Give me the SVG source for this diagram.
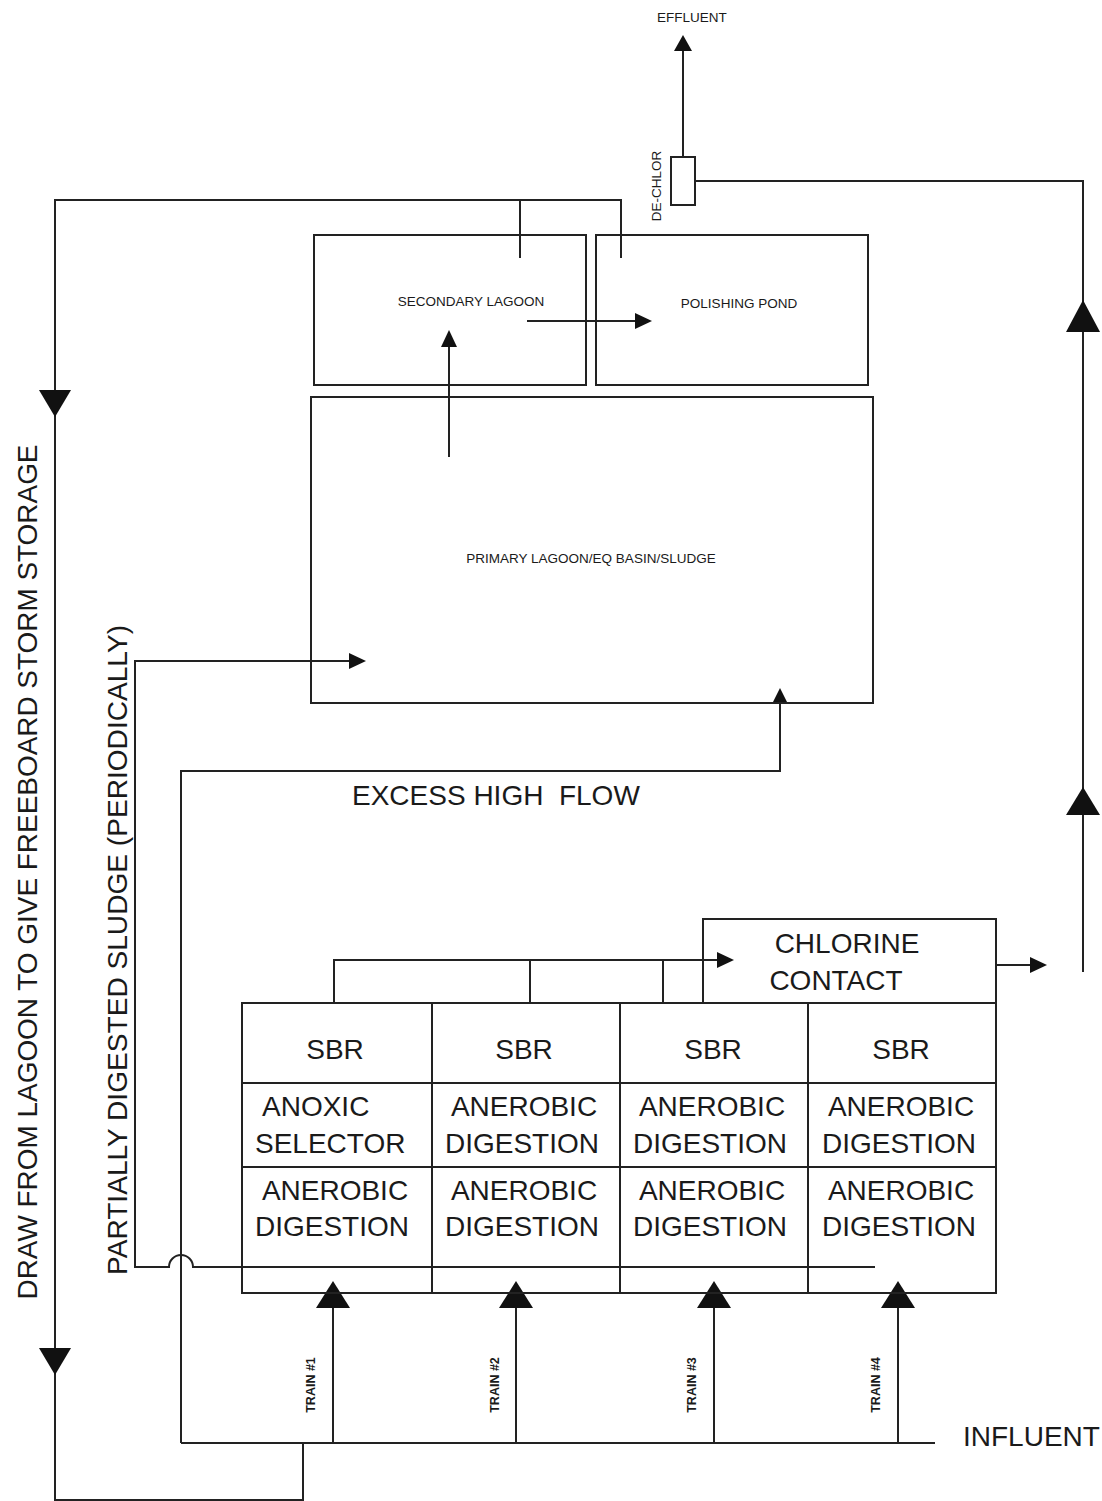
<svg xmlns="http://www.w3.org/2000/svg" width="1102" height="1501" viewBox="0 0 1102 1501">
<style>
.box{fill:none;stroke:#222;stroke-width:2}
.ln{fill:none;stroke:#222;stroke-width:2}
.ah{fill:#111;stroke:none}
.big{font-family:"Liberation Sans",Arial,sans-serif;font-size:28px;fill:#1a1a1a}
.sm{font-family:"Liberation Sans",Arial,sans-serif;font-size:13.5px;fill:#1a1a1a}
.tr{font-family:"Liberation Sans",Arial,sans-serif;font-size:12.5px;font-weight:bold;fill:#1a1a1a}
.mid{text-anchor:middle}
</style>
<rect width="1102" height="1501" fill="#fff"/>

<g id="connectors">
  <!-- effluent -->
  <path class="ln" d="M683,157 V48"/>
  <polygon class="ah" points="683,35 674,51 692,51"/>
  <!-- chlorine to dechlor -->
  <path class="ln" d="M695,181 H1083 V972"/>
  <polygon class="ah" points="1083,300 1066,332 1100,332"/>
  <polygon class="ah" points="1083,787 1066,815 1100,815"/>
  <!-- draw from lagoon -->
  <path class="ln" d="M520,258 V200 M621,258 V200 H55 V1500 H303 V1443"/>
  <polygon class="ah" points="55,417 39,390 71,390"/>
  <polygon class="ah" points="55,1375 39,1348 71,1348"/>
  <!-- primary to secondary -->
  <path class="ln" d="M449,457 V344"/>
  <polygon class="ah" points="449,330 441,347 457,347"/>
  <!-- secondary to polishing -->
  <path class="ln" d="M527,321 H638"/>
  <polygon class="ah" points="652,321 635,313 635,329"/>
  <!-- sludge -->
  <path class="ln" d="M875,1267 H193 A12,12 0 0 0 169,1267 H135 V661 H352"/>
  <polygon class="ah" points="366,661 349,653 349,669"/>
  <!-- excess high flow -->
  <path class="ln" d="M181,1443 V771 H780 V702"/>
  <polygon class="ah" points="780,688 772,704 788,704"/>
  <!-- influent -->
  <path class="ln" d="M181,1443 H935"/>
  <path class="ln" d="M333,1443 V1300 M516,1443 V1300 M714,1443 V1300 M898,1443 V1300"/>
  <polygon class="ah" points="333,1281 316,1308 350,1308"/>
  <polygon class="ah" points="516,1281 499,1308 533,1308"/>
  <polygon class="ah" points="714,1281 697,1308 731,1308"/>
  <polygon class="ah" points="898,1281 881,1308 915,1308"/>
  <!-- SBR to chlorine -->
  <path class="ln" d="M334,1003 V960 H720 M530,1003 V960 M663,1003 V960"/>
  <polygon class="ah" points="734,960 717,952 717,968"/>
  <!-- chlorine out -->
  <path class="ln" d="M996,965 H1033"/>
  <polygon class="ah" points="1047,965 1030,957 1030,973"/>
</g>

<g id="effluent-label">
  <text class="sm mid" x="692" y="22">EFFLUENT</text>
</g>

<g id="dechlor">
  <rect class="box" x="671" y="157" width="24" height="48"/>
  <text class="sm mid" transform="translate(661,186) rotate(-90)">DE-CHLOR</text>
</g>

<g id="secondary-lagoon">
  <rect class="box" x="314" y="235" width="272" height="150"/>
  <text class="sm mid" x="471" y="306">SECONDARY LAGOON</text>
</g>

<g id="polishing-pond">
  <rect class="box" x="596" y="235" width="272" height="150"/>
  <text class="sm mid" x="739" y="308">POLISHING POND</text>
</g>

<g id="primary-lagoon">
  <rect class="box" x="311" y="397" width="562" height="306"/>
  <text class="sm mid" x="591" y="563">PRIMARY LAGOON/EQ BASIN/SLUDGE</text>
</g>

<g id="excess-label">
  <text class="big" x="352" y="805" xml:space="preserve">EXCESS HIGH  FLOW</text>
</g>

<g id="storm-label">
  <text class="big mid" transform="translate(37,872) rotate(-90)" textLength="855" lengthAdjust="spacingAndGlyphs">DRAW FROM LAGOON TO GIVE FREEBOARD STORM STORAGE</text>
</g>

<g id="sludge-label">
  <text class="big mid" transform="translate(127,950) rotate(-90)" textLength="650" lengthAdjust="spacingAndGlyphs">PARTIALLY DIGESTED SLUDGE (PERIODICALLY)</text>
</g>

<g id="chlorine-contact">
  <rect class="box" x="703" y="919" width="293" height="84"/>
  <text class="big mid" x="847" y="953">CHLORINE</text>
  <text class="big mid" x="836" y="990">CONTACT</text>
</g>

<g id="sbr-grid">
  <rect class="box" x="242" y="1003" width="754" height="290"/>
  <path class="ln" d="M432,1003 V1293 M620,1003 V1293 M808,1003 V1293 M242,1083 H996 M242,1167 H996"/>
</g>

<g id="train1">
  <text class="big mid" x="335" y="1059">SBR</text>
  <text class="big" x="262" y="1116">ANOXIC</text>
  <text class="big" x="255" y="1153">SELECTOR</text>
  <text class="big mid" x="335" y="1200">ANEROBIC</text>
  <text class="big mid" x="332" y="1236">DIGESTION</text>
</g>
<g id="train2">
  <text class="big mid" x="524" y="1059">SBR</text>
  <text class="big mid" x="524" y="1116">ANEROBIC</text>
  <text class="big mid" x="522" y="1153">DIGESTION</text>
  <text class="big mid" x="524" y="1200">ANEROBIC</text>
  <text class="big mid" x="522" y="1236">DIGESTION</text>
</g>
<g id="train3">
  <text class="big mid" x="713" y="1059">SBR</text>
  <text class="big mid" x="712" y="1116">ANEROBIC</text>
  <text class="big mid" x="710" y="1153">DIGESTION</text>
  <text class="big mid" x="712" y="1200">ANEROBIC</text>
  <text class="big mid" x="710" y="1236">DIGESTION</text>
</g>
<g id="train4">
  <text class="big mid" x="901" y="1059">SBR</text>
  <text class="big mid" x="901" y="1116">ANEROBIC</text>
  <text class="big mid" x="899" y="1153">DIGESTION</text>
  <text class="big mid" x="901" y="1200">ANEROBIC</text>
  <text class="big mid" x="899" y="1236">DIGESTION</text>
</g>

<g id="train-labels">
  <text class="tr mid" transform="translate(315,1385) rotate(-90)">TRAIN #1</text>
  <text class="tr mid" transform="translate(499,1385) rotate(-90)">TRAIN #2</text>
  <text class="tr mid" transform="translate(696,1385) rotate(-90)">TRAIN #3</text>
  <text class="tr mid" transform="translate(880,1385) rotate(-90)">TRAIN #4</text>
</g>

<g id="influent">
  <text class="big" x="963" y="1446">INFLUENT</text>
</g>
</svg>
